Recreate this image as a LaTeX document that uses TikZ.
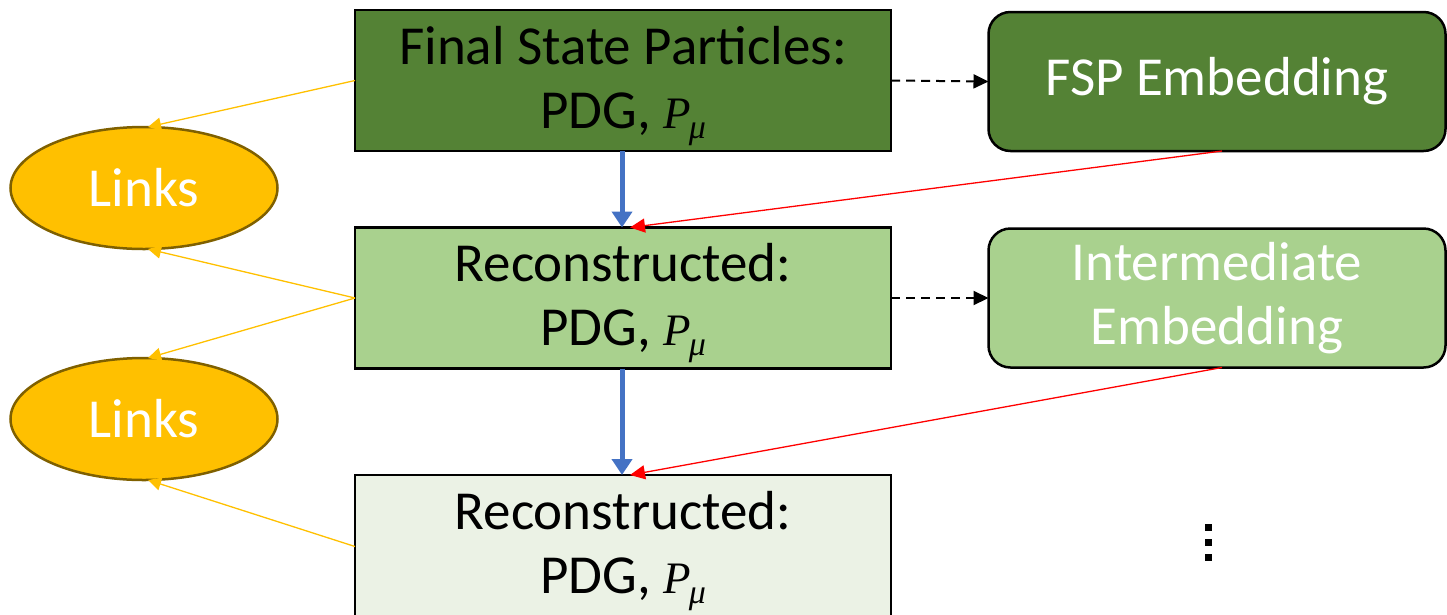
\documentclass[tikz,border=0pt]{standalone}
\usepackage{fontspec}
\setmainfont{Carlito}
\newcommand{\boxfont}{\fontsize{55}{64}\selectfont}
\newfontfamily\symit{Liberation Serif}[ItalicFont=* Italic]
\usetikzlibrary{arrows.meta,shapes.geometric}

\definecolor{darkgreen}{HTML}{548235}
\definecolor{midgreen}{HTML}{A9D18E}
\definecolor{palegreen}{HTML}{EBF2E5}
\definecolor{gold}{HTML}{FFC000}
\definecolor{golddark}{HTML}{7F6000}
\definecolor{flowblue}{HTML}{4472C4}
\definecolor{linkred}{HTML}{FF0000}

% momentum symbol P with subscript mu, set in text fonts
\newcommand{\Pmu}{{\symit\itshape\fontsize{45}{45}\selectfont P\kern-2pt\smash{\raisebox{-10pt}{\fontsize{34}{34}\selectfont μ}}}}

\tikzset{
  txt/.style={font=\boxfont, align=center},
  stage/.style={txt, draw=black, line width=2.5pt, minimum width=536pt,
    minimum height=141pt, inner sep=0pt, outer sep=0pt, text=black},
  embed/.style={txt, draw=black, line width=2.5pt, rounded corners=22pt,
    minimum width=457pt, minimum height=139pt, inner sep=0pt, outer sep=0pt,
    text=white},
  linkell/.style={txt, ellipse, draw=golddark, line width=2.5pt, fill=gold,
    minimum width=267pt, minimum height=122pt, inner sep=0pt, outer sep=0pt,
    text=white},
  flow/.style={draw=flowblue, line width=5pt, -{Triangle[length=16pt,width=20pt]}},
  feed/.style={draw=linkred, line width=1.3pt, -{Triangle[length=15pt,width=14pt]}},
  proj/.style={draw=black, line width=2pt, dash pattern=on 9pt off 6pt,
    -{Triangle[length=15pt,width=14pt]}},
  tolink/.style={draw=gold, line width=1.3pt, -{Triangle[length=13pt,width=13pt]}},
  dotsq/.style={fill=black, draw=none}
}

\begin{document}
\begin{tikzpicture}[x=1pt, y=-1pt]
  \useasboundingbox (0,0) rectangle (1447,614);

  % stage boxes
  \node[stage, fill=darkgreen] (fsp) at (623,80.5) {Final State Particles:\\PDG, \Pmu};
  \node[stage, fill=midgreen] (rec1) at (623,298) {Reconstructed:\\PDG, \Pmu};
  \node[stage, fill=palegreen] (rec2) at (623,545.5) {Reconstructed:\\PDG, \Pmu};

  % embeddings
  \node[embed, fill=darkgreen] (fspemb) at (1217,81.5) {FSP Embedding};
  \node[embed, fill=midgreen] (intemb) at (1217,298) {Intermediate\\Embedding};

  % link ellipses
  \node[linkell] (links1) at (144,188) {Links};
  \node[linkell] (links2) at (144,419) {Links};

  % continuation dots
  \fill[dotsq] (1205,523.5) rectangle (1212,530.5);
  \fill[dotsq] (1205,538.5) rectangle (1212,545.5);
  \fill[dotsq] (1205,554) rectangle (1212,561);

  % main flow
  \draw[flow] ([xshift=-1pt]fsp.south) -- ([xshift=-1pt]rec1.north);
  \draw[flow] ([xshift=-1pt]rec1.south) -- ([xshift=-1pt]rec2.north);

  % embeddings feeding back
  \draw[feed] ([xshift=5pt]fspemb.south) -- ([xshift=7pt]rec1.north);
  \draw[feed] ([xshift=5pt]intemb.south) -- ([xshift=7pt]rec2.north);

  % projections to embeddings
  \draw[proj] (fsp.east) -- (fspemb.west);
  \draw[proj] (rec1.east) -- (intemb.west);

  % links
  \draw[tolink] (fsp.west) -- ([xshift=4pt]links1.north);
  \draw[tolink] (rec1.west) -- ([xshift=4pt]links1.south);
  \draw[tolink] (rec1.west) -- ([xshift=4pt]links2.north);
  \draw[tolink] ([yshift=-1pt]rec2.west) -- ([xshift=4pt]links2.south);
\end{tikzpicture}
\end{document}
